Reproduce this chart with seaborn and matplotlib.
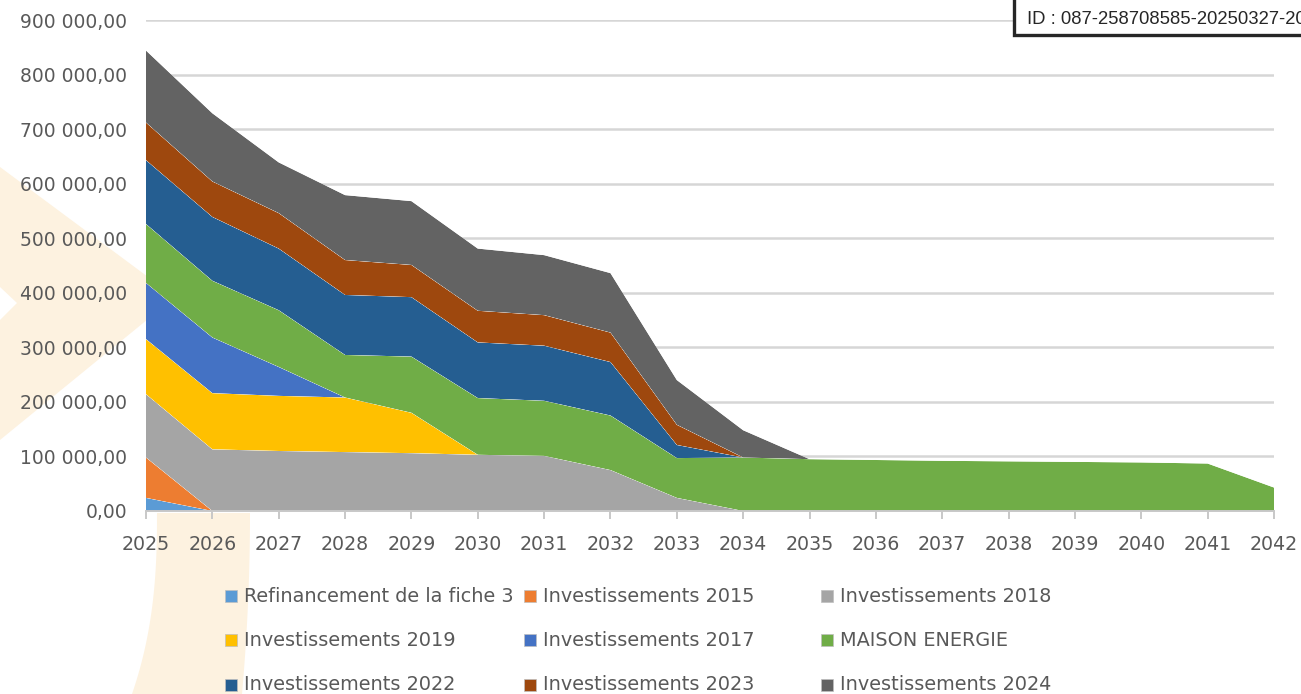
import numpy as np
import pandas as pd
import matplotlib
matplotlib.use("Agg")
import matplotlib.pyplot as plt
from matplotlib.patches import Rectangle, Polygon
import seaborn as sns
import seaborn.objects as so

# ---------------- data ----------------
years = list(range(2025, 2043))
series_names = [
    "Refinancement de la fiche 3",
    "Investissements 2015",
    "Investissements 2018",
    "Investissements 2019",
    "Investissements 2017",
    "MAISON ENERGIE",
    "Investissements 2022",
    "Investissements 2023",
    "Investissements 2024",
]
series_colors = ["#5B9BD5", "#ED7D31", "#A5A5A5", "#FFC000", "#4472C4",
                 "#70AD47", "#255E91", "#9E480E", "#636363"]

refinancement = [24000, 0, 0, 0, 0, 0, 0, 0, 0, 0, 0, 0, 0, 0, 0, 0, 0, 0]
inv_2015 = [74000, 0, 0, 0, 0, 0, 0, 0, 0, 0, 0, 0, 0, 0, 0, 0, 0, 0]
inv_2018 = [116000, 113000, 110000, 108000, 106000, 103000, 101000, 75000, 24000,
            0, 0, 0, 0, 0, 0, 0, 0, 0]
inv_2019 = [101000, 103000, 101000, 100000, 74000, 0, 0, 0, 0,
            0, 0, 0, 0, 0, 0, 0, 0, 0]
inv_2017 = [103000, 102000, 53000, 0, 0, 0, 0, 0, 0,
            0, 0, 0, 0, 0, 0, 0, 0, 0]
maison_energie = [108000, 104000, 104000, 78000, 103000, 104000, 101000, 100000, 73000,
                  98000, 95000, 93500, 92000, 91000, 90000, 89000, 87000, 43000]
inv_2022 = [117000, 117000, 113000, 110000, 109000, 102000, 101000, 98000, 24000,
            0, 0, 0, 0, 0, 0, 0, 0, 0]
inv_2023 = [69000, 65000, 65000, 64000, 59000, 58000, 56000, 54000, 37000,
            0, 0, 0, 0, 0, 0, 0, 0, 0]
inv_2024 = [132000, 125000, 93000, 119000, 117000, 114000, 110000, 109000, 82000,
            50000, 0, 0, 0, 0, 0, 0, 0, 0]

series_values = [refinancement, inv_2015, inv_2018, inv_2019, inv_2017,
                 maison_energie, inv_2022, inv_2023, inv_2024]

y_ticks = [0, 100000, 200000, 300000, 400000, 500000, 600000, 700000, 800000, 900000]
y_tick_labels = ["0,00", "100 000,00", "200 000,00", "300 000,00", "400 000,00",
                 "500 000,00", "600 000,00", "700 000,00", "800 000,00", "900 000,00"]
id_text = "ID : 087-258708585-20250327-20"

# long-form table, rows ordered by series so stacking follows legend order
rows = []
for name, vals in zip(series_names, series_values):
    for yr, v in zip(years, vals):
        rows.append({"year": yr, "value": v, "series": name})
df = pd.DataFrame(rows)
df["_s"] = df["series"].map({n: i for i, n in enumerate(series_names)})
df = df.sort_values(["year", "_s"]).drop(columns="_s").reset_index(drop=True)

# ---------------- style ----------------
sns.set_theme(style="white")
plt.rcParams["font.family"] = ["DejaVu Sans"]
TXT = "#595959"
W, H = 1301, 694

fig = plt.figure(figsize=(W / 100, H / 100), dpi=100)
fig.patch.set_facecolor("white")


def fx(x):
    return x / W


def fy(y):
    return 1 - y / H


# pale watermark (background logo fragments)
wm = "#FDF2E0"
chev = Polygon([(fx(0), fy(167)), (fx(175), fy(297)), (fx(0), fy(440)),
                (fx(0), fy(320)), (fx(17), fy(303)), (fx(0), fy(287))],
               closed=True, transform=fig.transFigure, fc=wm, ec="none", zorder=0)
fig.add_artist(chev)
t = np.linspace(0, 1, 30)
left_edge = [(fx(157 - 25 * tt ** 2.5), fy(513 + 181 * tt)) for tt in t]
right_edge = [(fx(250 - 8 * tt ** 2), fy(513 + 181 * tt)) for tt in t][::-1]
band = Polygon(left_edge + right_edge, closed=True, transform=fig.transFigure,
               fc=wm, ec="none", zorder=0)
fig.add_artist(band)

ax = fig.add_axes([fx(146), fy(511), (1274 - 146) / W, (511 - 20) / H])
ax.set_facecolor("none")

(
    so.Plot(df, x="year", y="value", color="series")
    .add(so.Area(alpha=1, edgewidth=0, edgealpha=0), so.Stack(), legend=False)
    .scale(color=so.Nominal(series_colors, order=series_names))
    .theme({**sns.axes_style("white"), "axes.facecolor": "none"})
    .on(ax)
    .plot()
)

ax.set_xlim(years[0], years[-1])
ax.set_ylim(0, 900000)
ax.set_xlabel("")
ax.set_ylabel("")
ax.set_xticks(years)
ax.set_xticklabels([str(y) for y in years])
ax.set_yticks(y_ticks)
ax.set_yticklabels(y_tick_labels)
ax.set_axisbelow(True)
ax.yaxis.grid(True, color="#D6D6D6", linewidth=1.8)
ax.xaxis.grid(False)
for s in ["left", "top", "right"]:
    ax.spines[s].set_visible(False)
ax.spines["bottom"].set_visible(True)
ax.spines["bottom"].set_color("#C8C8C8")
ax.spines["bottom"].set_linewidth(1.4)
ax.tick_params(axis="x", direction="out", length=6, width=1.4, color="#C8C8C8",
               labelcolor=TXT, labelsize=13.7, pad=11, bottom=True)
ax.tick_params(axis="y", length=0, labelcolor=TXT, labelsize=13.5, pad=13.5, left=True)

# legend (3 x 3, row-major as in reference)
col_x = [225, 524, 821]
row_y = [596, 640, 685]
for i, (name, col) in enumerate(zip(series_names, series_colors)):
    r, c = divmod(i, 3)
    x0, yc = col_x[c], row_y[r]
    fig.add_artist(Rectangle((fx(x0), fy(yc + 6)), 12 / W, 12 / H,
                             transform=fig.transFigure, fc=col, ec="#BFBFBF",
                             lw=0.5, zorder=5))
    fig.text(fx(x0 + 19), fy(yc), name, ha="left", va="center",
             fontsize=13.9, color=TXT, zorder=5)

# ID box top right
fig.add_artist(Rectangle((fx(1014), fy(35)), 400 / W, 100 / H,
                         transform=fig.transFigure, fc="white", ec="#262626",
                         lw=2.4, zorder=10))
fig.text(fx(1027), fy(19), id_text, ha="left", va="center", fontsize=13.3,
         color="#262626", family=["Liberation Sans", "DejaVu Sans"], zorder=11)

fig.savefig("out.png", dpi=100)
